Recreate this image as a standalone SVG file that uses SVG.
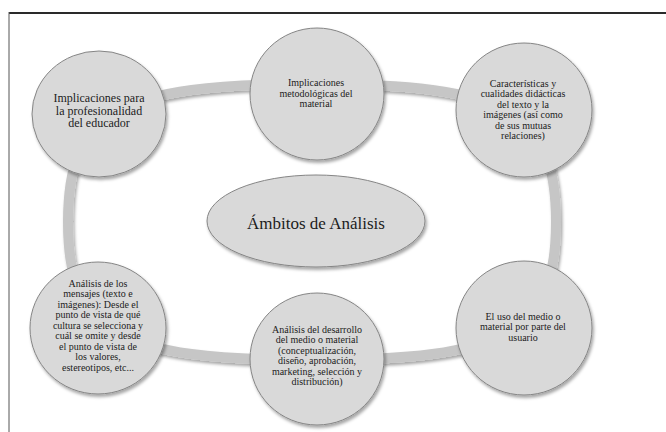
<svg xmlns="http://www.w3.org/2000/svg" width="666" height="432" viewBox="0 0 666 432">
<style>
.node{fill:#d9d9d9;stroke:#858585;stroke-width:1;filter:url(#sh)}
text{font-family:'Liberation Serif','Times New Roman','DejaVu Serif',serif;font-size:10px;fill:#1c1c1c;text-anchor:middle}
text.big{font-size:12px}
text.ctr{font-size:17px}
.ring{fill:none;stroke:#c6c6c6;stroke-width:10;filter:url(#sh)}
</style>
<defs>
<filter id="sh" x="-20%" y="-20%" width="140%" height="140%">
<feDropShadow dx="1.5" dy="2.5" stdDeviation="1.8" flood-color="#000" flood-opacity="0.35"/>
</filter>
</defs>
<rect width="666" height="432" fill="#ffffff"/>
<line x1="9" y1="13" x2="666" y2="13" stroke="#2a2a2a" stroke-width="2"/>
<line x1="9" y1="12" x2="9" y2="432" stroke="#555" stroke-width="1"/>
<g id="connectors">
<path class="ring" d="M312,84 C507,84 556,111 556,222 C556,333 507,360 312,360 C117,360 68,333 68,222 C68,111 117,84 312,84 Z"/>
</g>
<g font-family="Liberation Serif, serif">
<g id="center">
<ellipse class="node" cx="316" cy="221" rx="109" ry="46"/>
<text class="ctr" x="316" y="229">Ámbitos de Análisis</text>
</g>
<g id="n1">
<ellipse class="node" cx="99" cy="114" rx="67" ry="63"/>
<text class="big"><tspan x="99" y="102">Implicaciones para</tspan><tspan x="99" y="114.5">la profesionalidad</tspan><tspan x="99" y="127">del educador</tspan></text>
</g>
<g id="n2">
<ellipse class="node" cx="317" cy="94" rx="67" ry="66"/>
<text><tspan x="316" y="86">Implicaciones</tspan><tspan x="316" y="96.5">metodológicas del</tspan><tspan x="316" y="107">material</tspan></text>
</g>
<g id="n3">
<ellipse class="node" cx="524" cy="110" rx="68" ry="67"/>
<text><tspan x="523" y="86.5">Características y</tspan><tspan x="523" y="97">cualidades didácticas</tspan><tspan x="523" y="107.5">del texto y la</tspan><tspan x="523" y="118">imágenes (así como</tspan><tspan x="523" y="128.5">de sus mutuas</tspan><tspan x="523" y="139">relaciones)</tspan></text>
</g>
<g id="n4">
<ellipse class="node" cx="524" cy="328" rx="68" ry="67"/>
<text><tspan x="523" y="319.5">El uso del medio o</tspan><tspan x="523" y="330">material  por parte del</tspan><tspan x="523" y="340.5">usuario</tspan></text>
</g>
<g id="n5">
<ellipse class="node" cx="317" cy="359" rx="67" ry="66"/>
<text><tspan x="317" y="332.5">Análisis del desarrollo</tspan><tspan x="317" y="343">del medio o material</tspan><tspan x="317" y="353.5">(conceptualización,</tspan><tspan x="317" y="364">diseño, aprobación,</tspan><tspan x="317" y="374.5">marketing, selección y</tspan><tspan x="317" y="385">distribución)</tspan></text>
</g>
<g id="n6">
<ellipse class="node" cx="98" cy="328" rx="68" ry="66"/>
<text><tspan x="98" y="286.5">Análisis de los</tspan><tspan x="98" y="297">mensajes (texto e</tspan><tspan x="98" y="307.5">imágenes): Desde el</tspan><tspan x="98" y="318">punto de vista de qué</tspan><tspan x="98" y="328.5">cultura se selecciona y</tspan><tspan x="98" y="339">cuál se omite y desde</tspan><tspan x="98" y="349.5">el punto de vista de</tspan><tspan x="98" y="360">los valores,</tspan><tspan x="98" y="370.5">estereotipos, etc...</tspan></text>
</g>
</g>
</svg>
